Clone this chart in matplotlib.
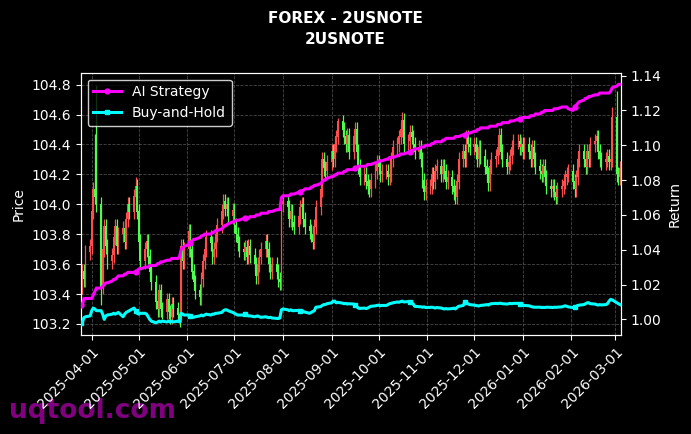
import matplotlib
matplotlib.use('Agg')
import matplotlib.pyplot as plt
import matplotlib.dates as mdates
import numpy as np
import pandas as pd


# daily closes, one row per week (first week starts Tue 2025-03-25, last ends Wed 2026-03-04)
first_open = 103.40
closes = [
    103.45, 103.55, 103.50, 103.68,
    103.72, 103.95, 104.10, 104.05, 104.00,
    103.45, 103.70, 103.85, 103.72, 103.62,
    103.66, 103.78, 103.85, 103.72, 103.80,
    103.84, 103.75, 103.90, 104.00, 103.95,
    104.05, 104.12, 103.95, 103.75, 103.62,
    103.70, 103.75, 103.65, 103.55, 103.48,
    103.35, 103.30, 103.42, 103.30, 103.28,
    103.36, 103.28, 103.25, 103.33, 103.30,
    103.26, 103.23, 103.72, 103.62, 103.70,
    103.82, 103.70, 103.55, 103.48, 103.42,
    103.38, 103.50, 103.62, 103.70, 103.78,
    103.74, 103.65, 103.70, 103.80, 103.86,
    103.95, 104.02, 103.97, 104.00, 103.92,
    103.96, 103.86, 103.80, 103.74, 103.70,
    103.68, 103.71, 103.65, 103.72, 103.66,
    103.60, 103.52, 103.60, 103.65, 103.70,
    103.75, 103.70, 103.60, 103.55, 103.60,
    103.55, 103.50, 103.48, 104.00, 104.02,
    103.98, 103.90, 103.95, 103.88, 103.85,
    103.92, 103.98, 104.00, 103.90, 103.85,
    103.82, 103.80, 103.75, 103.85, 103.98,
    104.10, 104.30, 104.24, 104.22, 104.28,
    104.35, 104.30, 104.40, 104.45, 104.55,
    104.50, 104.45, 104.40, 104.46, 104.35,
    104.45, 104.50, 104.35, 104.25, 104.18,
    104.20, 104.15, 104.12, 104.10, 104.16,
    104.22, 104.28, 104.25, 104.20, 104.22,
    104.22, 104.18, 104.20, 104.30, 104.38,
    104.40, 104.45, 104.50, 104.56, 104.40,
    104.42, 104.48, 104.45, 104.40, 104.35,
    104.38, 104.30, 104.16, 104.08, 104.12,
    104.12, 104.20, 104.15, 104.22, 104.25,
    104.20, 104.25, 104.22, 104.15, 104.18,
    104.12, 104.08, 104.05, 104.15, 104.30,
    104.35, 104.30, 104.45, 104.40, 104.38,
    104.40, 104.35, 104.30, 104.38, 104.32,
    104.25, 104.20, 104.14, 104.25, 104.30,
    104.32, 104.38, 104.46, 104.35, 104.30,
    104.25, 104.28, 104.32, 104.38, 104.42,
    104.42, 104.38, 104.40, 104.35, 104.40,
    104.35, 104.30, 104.38, 104.30, 104.25,
    104.22, 104.20, 104.25, 104.18, 104.12,
    104.10, 104.12, 104.08, 104.05, 104.10,
    104.12, 104.15, 104.18, 104.20, 104.22,
    104.15, 104.10, 104.18, 104.30, 104.35,
    104.30, 104.25, 104.35, 104.30, 104.40,
    104.42, 104.45, 104.35, 104.30, 104.28,
    104.30, 104.32, 104.28, 104.30, 104.58,
    104.20, 104.18, 104.24,
]

# long wicks that stick out: date -> (high, low)
wicks = {
    '2025-04-03': (104.47, None),
    '2025-04-04': (104.80, None),
    '2025-04-07': (None, 103.33),
    '2025-04-29': (104.18, None),
    '2025-05-28': (None, 103.21),
    '2025-09-05': (104.58, None),
    '2025-10-16': (104.62, None),
    '2026-02-27': (104.65, None),
    '2026-03-02': (104.76, 104.15),
}

ai_strategy = [
    1.008, 1.008, 1.012, 1.012,
    1.012, 1.012, 1.014, 1.016, 1.018,
    1.018, 1.019, 1.020, 1.021, 1.021,
    1.022, 1.023, 1.023, 1.024, 1.025,
    1.025, 1.026, 1.026, 1.027, 1.027,
    1.027, 1.027, 1.028, 1.029, 1.029,
    1.030, 1.030, 1.030, 1.031, 1.031,
    1.031, 1.032, 1.032, 1.033, 1.033,
    1.034, 1.034, 1.034, 1.035, 1.035,
    1.035, 1.036, 1.040, 1.041, 1.042,
    1.043, 1.044, 1.045, 1.046, 1.046,
    1.047, 1.048, 1.048, 1.049, 1.049,
    1.049, 1.050, 1.050, 1.051, 1.051,
    1.052, 1.053, 1.054, 1.054, 1.055,
    1.056, 1.056, 1.057, 1.057, 1.057,
    1.058, 1.058, 1.058, 1.058, 1.059,
    1.059, 1.060, 1.060, 1.060, 1.061,
    1.061, 1.061, 1.062, 1.062, 1.062,
    1.063, 1.063, 1.063, 1.070, 1.071,
    1.071, 1.071, 1.072, 1.072, 1.072,
    1.073, 1.073, 1.074, 1.074, 1.075,
    1.075, 1.076, 1.076, 1.077, 1.077,
    1.078, 1.079, 1.080, 1.080, 1.081,
    1.082, 1.082, 1.083, 1.083, 1.084,
    1.084, 1.085, 1.085, 1.086, 1.086,
    1.086, 1.087, 1.087, 1.088, 1.088,
    1.088, 1.088, 1.089, 1.089, 1.089,
    1.090, 1.090, 1.091, 1.091, 1.091,
    1.092, 1.092, 1.093, 1.093, 1.093,
    1.094, 1.094, 1.095, 1.095, 1.095,
    1.096, 1.096, 1.097, 1.097, 1.098,
    1.098, 1.099, 1.099, 1.099, 1.100,
    1.100, 1.101, 1.101, 1.102, 1.102,
    1.102, 1.103, 1.103, 1.104, 1.104,
    1.104, 1.104, 1.105, 1.105, 1.105,
    1.106, 1.106, 1.107, 1.107, 1.107,
    1.108, 1.108, 1.109, 1.109, 1.110,
    1.110, 1.110, 1.110, 1.111, 1.111,
    1.111, 1.112, 1.112, 1.112, 1.113,
    1.113, 1.113, 1.114, 1.114, 1.114,
    1.115, 1.115, 1.115, 1.116, 1.116,
    1.116, 1.117, 1.117, 1.117, 1.118,
    1.118, 1.119, 1.119, 1.120, 1.120,
    1.120, 1.120, 1.121, 1.121, 1.121,
    1.122, 1.122, 1.122, 1.122, 1.121,
    1.120, 1.122, 1.123, 1.124, 1.125,
    1.126, 1.127, 1.127, 1.128, 1.128,
    1.129, 1.129, 1.129, 1.130, 1.130,
    1.130, 1.130, 1.130, 1.131, 1.133,
    1.134, 1.135, 1.135,
]

buy_hold = [
    0.9980, 0.9980, 1.0010, 1.0015,
    1.0020, 1.0050, 1.0065, 1.0060, 1.0050,
    1.0050, 1.0030, 1.0000, 1.0020, 1.0025,
    1.0030, 1.0035, 1.0030, 1.0035, 1.0040,
    1.0015, 1.0030, 1.0040, 1.0045, 1.0050,
    1.0065, 1.0050, 1.0035, 1.0030, 1.0035,
    1.0035, 1.0030, 1.0015, 1.0000, 0.9990,
    0.9980, 0.9985, 0.9990, 0.9985, 0.9990,
    0.9985, 0.9990, 0.9985, 0.9990, 0.9985,
    0.9990, 0.9985, 1.0035, 1.0030, 1.0025,
    1.0025, 1.0020, 1.0015, 1.0012, 1.0015,
    1.0020, 1.0025, 1.0020, 1.0025, 1.0030,
    1.0025, 1.0030, 1.0030, 1.0035, 1.0035,
    1.0040, 1.0050, 1.0055, 1.0055, 1.0050,
    1.0040, 1.0035, 1.0030, 1.0025, 1.0025,
    1.0025, 1.0030, 1.0025, 1.0020, 1.0020,
    1.0015, 1.0018, 1.0020, 1.0015, 1.0012,
    1.0015, 1.0012, 1.0010, 1.0012, 1.0008,
    1.0006, 1.0005, 1.0008, 1.0055, 1.0060,
    1.0055, 1.0050, 1.0055, 1.0050, 1.0050,
    1.0052, 1.0048, 1.0050, 1.0045, 1.0042,
    1.0035, 1.0040, 1.0045, 1.0050, 1.0070,
    1.0073, 1.0080, 1.0085, 1.0085, 1.0090,
    1.0095, 1.0105, 1.0105, 1.0095, 1.0098,
    1.0093, 1.0090, 1.0092, 1.0088, 1.0090,
    1.0088, 1.0085, 1.0075, 1.0065, 1.0063,
    1.0065, 1.0062, 1.0065, 1.0070, 1.0075,
    1.0078, 1.0080, 1.0082, 1.0078, 1.0080,
    1.0080, 1.0085, 1.0090, 1.0092, 1.0095,
    1.0100, 1.0098, 1.0102, 1.0105, 1.0100,
    1.0102, 1.0100, 1.0098, 1.0090, 1.0075,
    1.0073, 1.0072, 1.0070, 1.0072, 1.0068,
    1.0069, 1.0070, 1.0068, 1.0065, 1.0068,
    1.0065, 1.0062, 1.0060, 1.0062, 1.0060,
    1.0062, 1.0065, 1.0060, 1.0068, 1.0075,
    1.0080, 1.0098, 1.0092, 1.0090, 1.0085,
    1.0082, 1.0080, 1.0078, 1.0077, 1.0080,
    1.0083, 1.0085, 1.0082, 1.0088, 1.0090,
    1.0092, 1.0090, 1.0093, 1.0092, 1.0090,
    1.0088, 1.0090, 1.0092, 1.0090, 1.0092,
    1.0092, 1.0090, 1.0085, 1.0082, 1.0080,
    1.0078, 1.0075, 1.0072, 1.0070, 1.0070,
    1.0070, 1.0068, 1.0069, 1.0068, 1.0070,
    1.0069, 1.0068, 1.0070, 1.0069, 1.0070,
    1.0072, 1.0075, 1.0078, 1.0075, 1.0072,
    1.0068, 1.0070, 1.0075, 1.0080, 1.0082,
    1.0085, 1.0090, 1.0095, 1.0096, 1.0090,
    1.0088, 1.0085, 1.0082, 1.0085, 1.0083,
    1.0085, 1.0090, 1.0105, 1.0115, 1.0112,
    1.0095, 1.0090, 1.0085,
]

dates = pd.bdate_range('2025-03-25', '2026-03-04')
x = mdates.date2num(dates)

closes = np.array(closes)
opens = np.concatenate([[first_open], closes[:-1]])
highs = np.maximum(opens, closes) + 0.05
lows = np.minimum(opens, closes) - 0.05
for d, (h, l) in wicks.items():
    i = dates.get_loc(pd.Timestamp(d))
    if h is not None:
        highs[i] = h
    if l is not None:
        lows[i] = l

# red = up, green = down
up_col = '#ff4d4d'
down_col = '#4dff4d'
colors = [up_col if c >= o else down_col for o, c in zip(opens, closes)]

fig = plt.figure(figsize=(6.91, 4.34), dpi=100, facecolor='black')
ax = fig.add_axes([0.1168, 0.228, 0.7819, 0.6045])
ax.set_facecolor('black')

ax.vlines(x, lows, highs, colors=colors, linewidth=0.9, zorder=2)
ax.bar(x, np.abs(closes - opens) + 0.004, bottom=np.minimum(opens, closes),
       width=1.1, color=colors, linewidth=0, zorder=2)

ax.set_ylim(103.126, 104.88)
ax.set_yticks(np.arange(103.2, 104.81, 0.2))
ax.set_xlim(mdates.date2num(pd.Timestamp('2025-03-24 23:30')),
            mdates.date2num(pd.Timestamp('2026-03-04 15:00')))
ax.xaxis.set_major_locator(mdates.MonthLocator())
ax.xaxis.set_major_formatter(mdates.DateFormatter('%Y-%m-%d'))
ax.grid(True, color='#666666', linestyle='--', linewidth=0.6, alpha=0.7)
ax.set_axisbelow(True)
ax.set_ylabel('Price', color='white')

ax2 = ax.twinx()
ax2.plot(x, ai_strategy, color='#ff00ff', linewidth=2.2, marker='o',
         markersize=3.5, markevery=25, label='AI Strategy', zorder=3)
ax2.plot(x, buy_hold, color='#00ffff', linewidth=2.2, marker='s',
         markersize=3.5, markevery=25, label='Buy-and-Hold', zorder=3)
ax2.set_ylim(0.991, 1.1417)
ax2.set_yticks(np.arange(1.00, 1.141, 0.02))
ax2.set_ylabel('Return', color='white')

for a in (ax, ax2):
    a.tick_params(colors='white', labelsize=10)
    for s in a.spines.values():
        s.set_color('white')

plt.setp(ax.get_xticklabels(), rotation=45, ha='right', rotation_mode='anchor')

leg = ax2.legend(loc='upper left', facecolor='black', edgecolor='white',
                 labelcolor='white', fontsize=10, framealpha=0.8)

fig.text(0.5, 0.958, 'FOREX - 2USNOTE', color='white', fontsize=11,
         fontweight='bold', ha='center', va='center')
fig.text(0.5, 0.908, '2USNOTE', color='white', fontsize=11,
         fontweight='bold', ha='center', va='center')
fig.text(0.013, 0.038, 'uqtool.com', color='#800080', fontsize=19,
         fontweight='bold', zorder=-1)

fig.savefig('out.png', dpi=100, facecolor='black')
